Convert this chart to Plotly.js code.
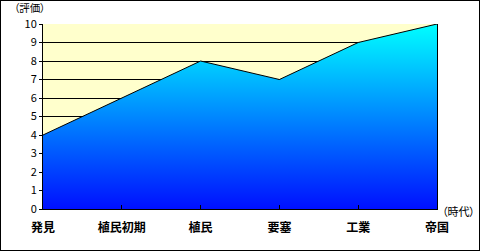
<!DOCTYPE html>
<html><head><meta charset="utf-8">
<script src="https://cdn.plot.ly/plotly-3.0.1.min.js"></script>
<style>
html,body{margin:0;padding:0;background:#fff;}
#chart{width:480px;height:251px;box-sizing:border-box;border:1px solid #000;}
.annotation-text{font-feature-settings:"palt" 1;}
</style></head>
<body><div id="chart"></div>
<script>
const categories = ['発見','植民初期','植民','要塞','工業','帝国'];
const values = [4, 6, 8, 7, 9, 10];
const yTicks = [0,1,2,3,4,5,6,7,8,9,10];
const yLabel = '（評価）';
const xLabel = '（時代）';

const font = 'Noto Sans CJK JP, sans-serif';
const trace = {
  type: 'scatter', mode: 'lines', x: categories, y: values,
  line: {color: '#000', width: 1},
  fill: 'tozeroy',
  fillgradient: {type: 'vertical', start: 0, stop: 10,
    colorscale: [[0, '#0010FF'], [1, '#00FFFF']]},
  hoverinfo: 'skip'
};
const layout = {
  width: 478, height: 249,
  margin: {l: 42, r: 42, t: 23, b: 41},
  paper_bgcolor: '#fff', plot_bgcolor: '#FFFFCC',
  showlegend: false,
  font: {family: font, size: 11, color: '#000'},
  xaxis: {type: 'category', range: [0, 5], showgrid: false, zeroline: false,
    showline: true, linecolor: '#000', linewidth: 1,
    ticks: 'inside', ticklen: 4, tickcolor: '#000',
    tickfont: {family: font, size: 12, color: '#000', weight: 'bold'},
    ticklabelstandoff: 8, fixedrange: true},
  yaxis: {range: [0, 10], tickvals: yTicks, ticktext: yTicks.map(String),
    showgrid: true, gridcolor: '#000', gridwidth: 1, zeroline: false,
    showline: true, mirror: true, linecolor: '#000', linewidth: 1,
    ticks: 'outside', ticklen: 3, tickcolor: '#000',
    tickfont: {family: font, size: 11, color: '#000'}, fixedrange: true},
  annotations: [
    {text: yLabel, xref: 'paper', yref: 'paper', x: -0.0761, y: 1.0865,
     xanchor: 'left', yanchor: 'middle', showarrow: false, borderpad: 0,
     font: {family: font, size: 10.5, color: '#000'}},
    {text: xLabel, xref: 'paper', yref: 'paper', x: 1.0076, y: -0.009,
     xanchor: 'left', yanchor: 'middle', showarrow: false,
     font: {family: font, size: 11, color: '#000'}}
  ]
};
Plotly.newPlot('chart', [trace], layout, {displayModeBar: false, staticPlot: true});
</script></body></html>
